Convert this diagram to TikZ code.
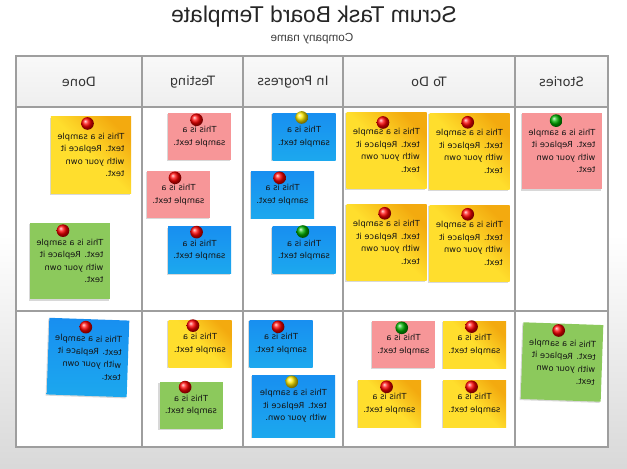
\documentclass[tikz,border=0pt]{standalone}
\usepackage{fontspec}
\setmainfont{DejaVu Sans}
\newfontfamily\titlefont{Liberation Sans}
\usetikzlibrary{shadows, positioning}
\definecolor{ynote}{RGB}{255,222,45}
\definecolor{onote}{RGB}{243,170,15}
\definecolor{bnote}{RGB}{28,168,238}
\definecolor{pnote}{RGB}{247,150,152}
\definecolor{gnote}{RGB}{140,201,92}
\definecolor{gridc}{RGB}{158,158,158}

\begin{document}
\begin{tikzpicture}[x=0.03cm, y=-0.03cm,
    gridline/.style={draw=gridc, line width=1pt},
    hdr/.style={xscale=-1, font=\fontsize{11}{13}\selectfont, text=black!80},
    paper/.style={xscale=-1, minimum width=2.4cm, minimum height=2.3cm, inner sep=1pt, align=left,
        font=\fontsize{7.1}{10.7}\selectfont, text=black!92,
        drop shadow={shadow xshift=-0.9pt, shadow yshift=-1pt, opacity=0.3},
        execute at begin node={\rule{0pt}{12pt}}},
    yel/.style={paper, top color=onote, bottom color=ynote, middle color=ynote, shading angle=-45},
    blu/.style={paper, top color=bnote!85!blue, bottom color=bnote},
    pnk/.style={paper, fill=pnote},
    grn/.style={paper, fill=gnote},
    sm/.style={minimum width=1.89cm, minimum height=1.41cm, align=center},
    tack/.style={circle, inner sep=0pt, minimum size=0.38cm, ball color=#1}]
    \useasboundingbox (0,0) rectangle (627,468);
    \shade[top color=white, bottom color=gray!30, middle color=white] (0,0) rectangle (627,468);

    % title
    \node[xscale=-1, font=\titlefont\fontsize{19.5}{23}\selectfont, text=black!85] (title) at (314,17) {Scrum Task Board Template};
    \node[xscale=-1, font=\titlefont\fontsize{10}{12}\selectfont, text=black!75] (company) at (312,39) {Company name};

    % board
    \fill[white] (16,56) rectangle (608,447);
    \shade[top color=gray!5, bottom color=gray!13] (16,56) rectangle (608,107);
    \draw[gridline] (16,56) rectangle (608,447);
    \draw[gridline] (16,107) -- (608,107);
    \draw[gridline] (16,311) -- (608,311);
    \foreach \cx in {142,243,343,515}
        \draw[gridline] (\cx,56) -- (\cx,447);

    \node[hdr] (hdone) at (79,82) {Done};
    \node[hdr] (htest) at (192.5,82) {Testing};
    \node[hdr] (hprog) at (293,82) {In Progress};
    \node[hdr] (htodo) at (429,82) {To Do};
    \node[hdr] (hstor) at (561.5,82) {Stories};

    % stories
    \node[pnk] (s1) at (562,151) {This is a sample\\text. Replace it\\with your own\\text.};
    \node[grn, rotate=2] (s2) at (562,362) {This is a sample\\text. Replace it\\with your own\\text.};
    % to do
    \node[yel] (t1) at (386.5,150.5) {This is a sample\\text. Replace it\\with your own\\text.};
    \node[yel] (t2) at (469.5,151.5) {This is a sample\\text. Replace it\\with your own\\text.};
    \node[yel] (t3) at (386.5,242.5) {This is a sample\\text. Replace it\\with your own\\text.};
    \node[yel] (t4) at (469.5,243.5) {This is a sample\\text. Replace it\\with your own\\text.};
    \node[pnk, sm] (t5) at (403.5,344.5) {This is a\\sample text.};
    \node[yel, sm] (t6) at (474.5,344.5) {This is a\\sample text.};
    \node[yel, sm] (t7) at (389.5,403.5) {This is a\\sample text.};
    \node[yel, sm] (t8) at (474.5,403.5) {This is a\\sample text.};
    % in progress
    \node[blu, sm] (p1) at (304,136.5) {This is a\\sample text.};
    \node[blu, sm] (p2) at (282.5,194.5) {This is a\\sample text.};
    \node[blu, sm] (p3) at (304,250) {This is a\\sample text.};
    \node[blu, sm] (p4) at (281,343.5) {This is a\\sample text.};
    \node[blu, minimum width=2.49cm, minimum height=1.86cm] (p5) at (293.5,406) {This is a sample\\text. Replace it\\with your own.};
    % testing
    \node[pnk, sm] (e1) at (199.5,136.5) {This is a\\sample text.};
    \node[pnk, sm] (e2) at (178.5,194.5) {This is a\\sample text.};
    \node[blu, sm] (e3) at (199.5,250) {This is a\\sample text.};
    \node[yel, sm] (e4) at (200,343.5) {This is a\\sample text.};
    \node[grn, sm] (e5) at (191,405) {This is a\\sample text.};
    % done
    \node[yel] (d1) at (91,155) {This is a sample\\text. Replace it\\with your own\\text.};
    \node[grn] (d2) at (70,261) {This is a sample\\text. Replace it\\with your own\\text.};
    \node[blu, rotate=2] (d3) at (88,357.5) {This is a sample\\text. Replace it\\with your own\\text.};

    % pins
    \node[tack=green!70!black] (s1p) at ([shift={(-5pt,-7pt)}]s1.north) {};
    \node[tack=red] (s2p) at ([shift={(-4pt,-6pt)}]s2.north) {};
    \node[tack=red] (t1p) at ([shift={(-3pt,-9pt)}]t1.north) {};
    \node[tack=red] (t2p) at ([shift={(-1.5pt,-8pt)}]t2.north) {};
    \node[tack=red] (t3p) at ([shift={(-1.5pt,-8pt)}]t3.north) {};
    \node[tack=red] (t4p) at ([shift={(-1.5pt,-8pt)}]t4.north) {};
    \node[tack=green!70!black] (t5p) at ([shift={(-1.5pt,-6pt)}]t5.north) {};
    \node[tack=red] (t6p) at ([shift={(-2.5pt,-5pt)}]t6.north) {};
    \node[tack=red] (t7p) at ([shift={(-2.5pt,-6pt)}]t7.north) {};
    \node[tack=red] (t8p) at ([shift={(-2.5pt,-6pt)}]t8.north) {};
    \node[tack=yellow!85!orange] (p1p) at ([shift={(-2pt,-4pt)}]p1.north) {};
    \node[tack=red] (p2p) at ([shift={(-2.5pt,-6pt)}]p2.north) {};
    \node[tack=green!70!black] (p3p) at ([shift={(-1pt,-4.5pt)}]p3.north) {};
    \node[tack=red] (p4p) at ([shift={(-2.5pt,-6pt)}]p4.north) {};
    \node[tack=yellow!85!orange] (p5p) at ([shift={(-1.5pt,-6pt)}]p5.north) {};
    \node[tack=red] (e1p) at ([shift={(-2.5pt,-6pt)}]e1.north) {};
    \node[tack=red] (e2p) at ([shift={(-3pt,-6pt)}]e2.north) {};
    \node[tack=red] (e3p) at ([shift={(-2.5pt,-5pt)}]e3.north) {};
    \node[tack=red] (e4p) at ([shift={(-6pt,-5pt)}]e4.north) {};
    \node[tack=red] (e5p) at ([shift={(-5pt,-5pt)}]e5.north) {};
    \node[tack=red] (d1p) at ([shift={(-3pt,-6pt)}]d1.north) {};
    \node[tack=red] (d2p) at ([shift={(-6pt,-7pt)}]d2.north) {};
    \node[tack=red] (d3p) at ([shift={(-3pt,-7pt)}]d3.north) {};
\end{tikzpicture}
\end{document}
